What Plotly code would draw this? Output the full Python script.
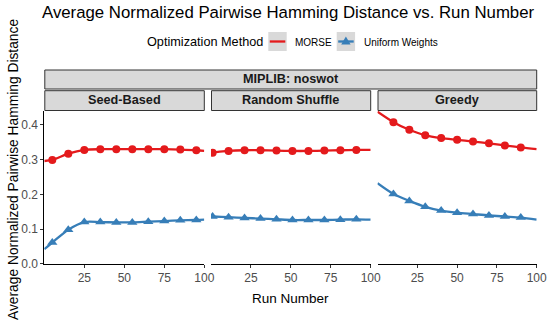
import plotly.graph_objects as go

# ---------------- data ----------------
facets = ["Seed-Based", "Random Shuffle", "Greedy"]
group_label = "MIPLIB: noswot"
methods = ["MORSE", "Uniform Weights"]
legend_title = "Optimization Method"

seed_runs = [5, 15, 25, 35, 45, 55, 65, 75, 85, 95]
seed_morse = [0.299, 0.317, 0.328, 0.330, 0.330, 0.330, 0.330, 0.330, 0.329, 0.327]
seed_uniform = [0.061, 0.098, 0.120, 0.120, 0.119, 0.119, 0.121, 0.123, 0.125, 0.126]
seed_line_runs = [0] + seed_runs + [100]
seed_morse_line = [0.296] + seed_morse + [0.325]
seed_uniform_line = [0.042] + seed_uniform + [0.127]

shuffle_runs = [1, 11, 21, 31, 41, 51, 61, 71, 81, 91]
shuffle_morse = [0.320, 0.325, 0.327, 0.327, 0.326, 0.325, 0.325, 0.326, 0.327, 0.328]
shuffle_uniform = [0.136, 0.134, 0.132, 0.130, 0.128, 0.126, 0.126, 0.126, 0.127, 0.128]
shuffle_line_runs = [0] + shuffle_runs + [100]
shuffle_morse_line = [0.319] + shuffle_morse + [0.328]
shuffle_uniform_line = [0.136] + shuffle_uniform + [0.127]

greedy_runs = [10, 20, 30, 40, 50, 60, 70, 80, 90]
greedy_morse = [0.408, 0.386, 0.370, 0.362, 0.357, 0.352, 0.347, 0.341, 0.335]
greedy_uniform = [0.201, 0.181, 0.164, 0.153, 0.147, 0.143, 0.139, 0.136, 0.133]
greedy_line_runs = [0] + greedy_runs + [100]
greedy_morse_line = [0.438] + greedy_morse + [0.330]
greedy_uniform_line = [0.232] + greedy_uniform + [0.127]

x_ticks = [25, 50, 75, 100]
y_ticks = [0.0, 0.1, 0.2, 0.3, 0.4]
y_tick_labels = ["0.0", "0.1", "0.2", "0.3", "0.4"]

# ---------------- styling ----------------
W, H = 550, 331
COLORS = {"MORSE": "#E41A1C", "Uniform Weights": "#377EB8"}
SYMBOLS = {"MORSE": "circle", "Uniform Weights": "triangle-up"}
MSIZE = {"MORSE": 8, "Uniform Weights": 9}
FONT = "Liberation Sans, Arial, sans-serif"

def px_x(p):
    return p / W

def px_y(p):
    return 1 - p / H

panel_px = [(44.3, 204.3), (211.0, 370.7), (377.5, 536.7)]
panel_top, panel_bot = 110.7, 263.7

panels = [
    (seed_runs, seed_morse, seed_uniform, seed_line_runs, seed_morse_line, seed_uniform_line),
    (shuffle_runs, shuffle_morse, shuffle_uniform, shuffle_line_runs, shuffle_morse_line, shuffle_uniform_line),
    (greedy_runs, greedy_morse, greedy_uniform, greedy_line_runs, greedy_morse_line, greedy_uniform_line),
]

fig = go.Figure()
for i, (runs, m, u, lruns, ml, ul) in enumerate(panels):
    xa = "x" if i == 0 else f"x{i+1}"
    ya = "y" if i == 0 else f"y{i+1}"
    for name, pts, line in [("MORSE", m, ml), ("Uniform Weights", u, ul)]:
        fig.add_trace(go.Scatter(
            x=lruns, y=line, mode="lines", xaxis=xa, yaxis=ya,
            line=dict(color=COLORS[name], width=2.3, shape="spline", smoothing=0.8),
            showlegend=False, hoverinfo="skip"))
        fig.add_trace(go.Scatter(
            x=runs, y=pts, mode="markers", xaxis=xa, yaxis=ya,
            marker=dict(color=COLORS[name], symbol=SYMBOLS[name], size=MSIZE[name]),
            showlegend=False, name=name))

layout = dict(
    width=W, height=H,
    margin=dict(l=0, r=0, t=0, b=0),
    paper_bgcolor="white", plot_bgcolor="white",
    font=dict(family=FONT, color="#000000"),
    showlegend=False,
)

for i, (x0, x1) in enumerate(panel_px):
    k = "" if i == 0 else str(i + 1)
    layout[f"xaxis{k}"] = dict(
        domain=[px_x(x0), px_x(x1)], range=[0, 100], anchor=f"y{k}",
        tickvals=x_ticks, ticktext=[str(t) for t in x_ticks],
        ticks="outside", ticklen=3, tickcolor="#333333", tickwidth=1,
        tickfont=dict(size=12, color="#4D4D4D"),
        showline=True, linecolor="#000000", linewidth=1,
        showgrid=False, zeroline=False, fixedrange=True, automargin=False)
    layout[f"yaxis{k}"] = dict(
        domain=[px_y(panel_bot), px_y(panel_top)], range=[0, 0.441],
        anchor=f"x{k}",
        tickvals=y_ticks, ticktext=y_tick_labels,
        ticks="outside" if i == 0 else "", ticklen=3, tickcolor="#333333",
        tickfont=dict(size=12, color="#4D4D4D"),
        showticklabels=(i == 0),
        showline=(i == 0), linecolor="#000000", linewidth=1,
        showgrid=False, zeroline=False, fixedrange=True, automargin=False)

fig.update_layout(**layout)

shapes = []
annotations = []
STRIP_FILL = "#D9D9D9"
STRIP_LINE = "#333333"

def ann(text, x, y, size, color="#000", angle=0, xanchor="center"):
    return dict(text=text, xref="paper", yref="paper", x=px_x(x), y=px_y(y),
                xanchor=xanchor, yanchor="middle", showarrow=False,
                textangle=angle, font=dict(size=size, color=color))

# top strip
shapes.append(dict(type="rect", xref="paper", yref="paper",
                   x0=px_x(44.8), x1=px_x(536.7), y0=px_y(89), y1=px_y(70),
                   fillcolor=STRIP_FILL, line=dict(color=STRIP_LINE, width=1)))
annotations.append(ann(f"<b>{group_label}</b>", (44.8 + 536.7) / 2, 79.5, 12.7, "#1A1A1A"))
for (x0, x1), name in zip(panel_px, facets):
    shapes.append(dict(type="rect", xref="paper", yref="paper",
                       x0=px_x(x0 + 0.5), x1=px_x(x1), y0=px_y(110.5), y1=px_y(90.7),
                       fillcolor=STRIP_FILL, line=dict(color=STRIP_LINE, width=1)))
    annotations.append(ann(f"<b>{name}</b>", (x0 + x1) / 2, 100.5, 12.7, "#1A1A1A"))

# legend (ggplot-style keys)
annotations.append(ann(legend_title, 145, 42, 12.7, xanchor="left"))
key_boxes = {"MORSE": 268.3, "Uniform Weights": 336.7}
KEY_PATHS = {
    "circle": "M -4,0 A 4,4 0 1,0 4,0 A 4,4 0 1,0 -4,0 Z",
    "triangle-up": "M -4.7,-3 L 4.7,-3 L 0,5 Z",
}
for name in methods:
    kx = key_boxes[name]
    cx, cy = kx + 9.2, 41.5
    shapes.append(dict(type="rect", xref="paper", yref="paper",
                       x0=px_x(kx), x1=px_x(kx + 18.4), y0=px_y(51), y1=px_y(32),
                       fillcolor="#D9D9D9", line=dict(width=0)))
    shapes.append(dict(type="line", xref="paper", yref="paper",
                       x0=px_x(kx + 1.5), x1=px_x(kx + 17), y0=px_y(cy), y1=px_y(cy),
                       line=dict(color=COLORS[name], width=2.3)))
    shapes.append(dict(type="path", xref="paper", yref="paper",
                       xsizemode="pixel", ysizemode="pixel",
                       xanchor=px_x(cx), yanchor=px_y(cy),
                       path=KEY_PATHS[SYMBOLS[name]],
                       fillcolor=COLORS[name], line=dict(width=0)))
    annotations.append(ann(name, kx + 25, 42, 10, xanchor="left"))

annotations.append(ann("Average Normalized Pairwise Hamming Distance vs. Run Number",
                       288.3, 12.5, 16.8))
annotations.append(ann("Run Number", 290.5, 298, 13.5))
annotations.append(ann("Average Normalized Pairwise Hamming Distance", 13, 170, 13.8, angle=-90))

fig.update_layout(shapes=shapes, annotations=annotations)
# remove the browser's default 8px body margin so the figure fills the window
fig.write_html("out.html", config={"displayModeBar": False},
               post_script="document.body.style.margin='0px';")
